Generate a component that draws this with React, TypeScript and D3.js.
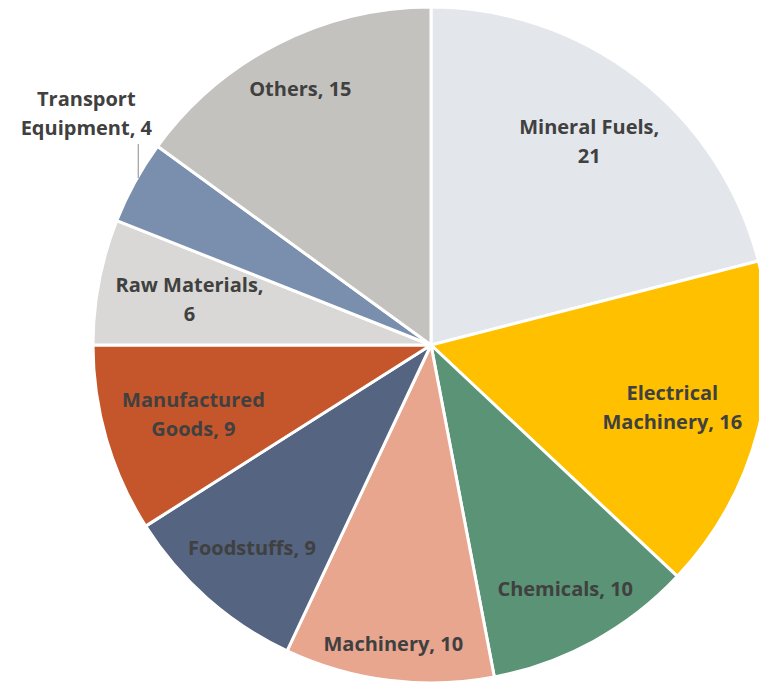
import React, { useRef, useEffect } from 'react';
import * as d3 from 'd3';

const categories = [
  'Mineral Fuels',
  'Electrical Machinery',
  'Chemicals',
  'Machinery',
  'Foodstuffs',
  'Manufactured Goods',
  'Raw Materials',
  'Transport Equipment',
  'Others',
];
const values = [21, 16, 10, 10, 9, 9, 6, 4, 15];
const sliceColors = [
  '#E3E6EB',
  '#FFC000',
  '#5A9375',
  '#E8A68F',
  '#546481',
  '#C5562B',
  '#D9D8D6',
  '#7A8EAD',
  '#C4C2BE',
];

const W = 759;
const H = 682;
const FONT = '"Open Sans", sans-serif';

export default function App() {
  const ref = useRef(null);

  useEffect(() => {
    const svg = d3.select(ref.current);
    svg.selectAll('*').remove(); // redraw from scratch

    const cx = 431;
    const cy = 345;
    const radius = 338;
    const fontSize = 20;
    const lineH = 29;
    const wrapWidth = 158;

    const data = categories.map((c, i) => ({ name: c, value: values[i], color: sliceColors[i] }));
    const pie = d3.pie().value((d) => d.value).sort(null);
    const arcs = pie(data);
    const arc = d3.arc().innerRadius(0).outerRadius(radius);

    const g = svg.append('g').attr('transform', `translate(${cx},${cy})`);

    g.selectAll('path.slice')
      .data(arcs)
      .enter()
      .append('path')
      .attr('class', 'slice')
      .attr('d', arc)
      .attr('fill', (d) => d.data.color)
      .attr('stroke', '#ffffff')
      .attr('stroke-width', 3)
      .attr('stroke-linejoin', 'round');

    // word wrap helper, measured with a scratch text node
    const scratch = svg
      .append('text')
      .attr('font-family', FONT)
      .attr('font-weight', 'bold')
      .attr('font-size', fontSize);
    const measure = (s) => {
      scratch.text(s);
      return scratch.node().getComputedTextLength();
    };
    const wrap = (s) => {
      const words = s.split(' ');
      const lines = [];
      let cur = '';
      words.forEach((w) => {
        const next = cur ? cur + ' ' + w : w;
        if (cur && measure(next) > wrapWidth) {
          lines.push(cur);
          cur = w;
        } else cur = next;
      });
      lines.push(cur);
      return lines;
    };

    arcs.forEach((a) => {
      const lines = wrap(`${a.data.name}, ${a.data.value}`);
      const widths = lines.map(measure);
      const w = d3.max(widths);
      const h = lines.length * lineH;
      const mid = (a.startAngle + a.endAngle) / 2;
      const sx = Math.sin(mid);
      const sy = -Math.cos(mid);
      const outside = a.data.value < 5;

      let px;
      let py;
      if (outside) {
        // label outside with a short vertical leader line
        const ax = sx * (radius - 4);
        const ay = sy * (radius - 4);
        g.append('line')
          .attr('x1', ax)
          .attr('y1', ay - 6)
          .attr('x2', ax)
          .attr('y2', ay - 40)
          .attr('stroke', '#A6A6A6')
          .attr('stroke-width', 1.3);
        px = ax - 52;
        py = ay - 40 - h / 2 - 2;
      } else {
        const extent = Math.abs(sx) * (w / 2) + Math.abs(sy) * (h / 2);
        const rr = radius - extent - 14;
        px = sx * rr;
        py = sy * rr;
      }

      const t = g
        .append('text')
        .attr('text-anchor', 'middle')
        .attr('font-family', FONT)
        .attr('font-weight', 'bold')
        .attr('font-size', fontSize)
        .attr('fill', '#404040');
      lines.forEach((l, i) => {
        t.append('tspan')
          .attr('x', px)
          .attr('y', py - h / 2 + i * lineH + lineH / 2 + fontSize * 0.36)
          .text(l);
      });
    });

    scratch.remove();
  }, []);

  return (
    <svg
      ref={ref}
      width={W}
      height={H}
      style={{ position: 'absolute', left: 0, top: 0, background: '#ffffff' }}
    />
  );
}
